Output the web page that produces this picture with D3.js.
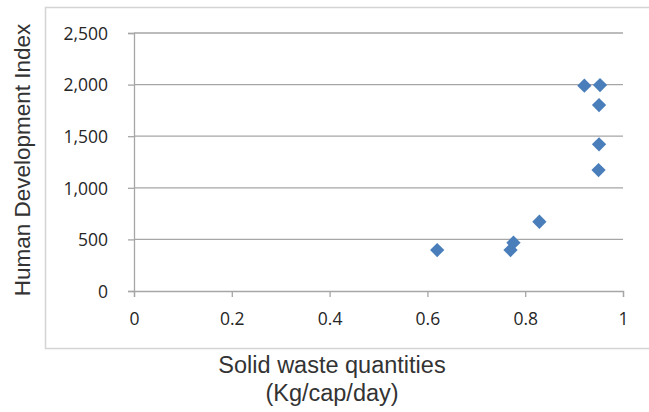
<!DOCTYPE html>
<html>
<head>
<meta charset="utf-8">
<script src="https://cdn.jsdelivr.net/npm/d3@7"></script>
<style>
  html, body { margin: 0; padding: 0; background: #fff; }
  svg { display: block; }
</style>
</head>
<body>
<script>
// Solid waste quantity vs Human Development Index
const wasteKg = [0.62, 0.770, 0.776, 0.829, 0.921, 0.953, 0.951, 0.951, 0.950];
const hdiValues = [397, 397, 468, 671, 1990, 1995, 1802, 1421, 1172];
const xTicks = [0, 0.2, 0.4, 0.6, 0.8, 1];
const yTicks = [0, 500, 1000, 1500, 2000, 2500];

const W = 649, H = 412;
const svg = d3.select("body").append("svg").attr("width", W).attr("height", H);

// outer chart frame
svg.append("rect")
  .attr("x", 45.5).attr("y", 7.5)
  .attr("width", 640).attr("height", 341)
  .attr("fill", "#fff").attr("stroke", "#d4d4d4").attr("stroke-width", 1.5);

const x = d3.scaleLinear().domain([0, 1]).range([134, 623]);
const y = d3.scaleLinear().domain([0, 2500]).range([291, 33]);

// horizontal gridlines
svg.append("g").selectAll("line").data(yTicks.filter(d => d > 0)).join("line")
  .attr("x1", x(0)).attr("x2", x(1))
  .attr("y1", d => y(d)).attr("y2", d => y(d))
  .attr("stroke", "#a6a6a6").attr("stroke-width", 1.3);

// y axis
const yAxis = d3.axisLeft(y).tickValues(yTicks).tickSize(6).tickPadding(20)
  .tickFormat(d3.format(","));
const gy = svg.append("g").attr("transform", `translate(${x(0)},0)`).call(yAxis);

// x axis
const xAxis = d3.axisBottom(x).tickValues(xTicks).tickSize(6).tickPadding(16)
  .tickFormat(d => d === 0 || d === 1 ? d3.format("d")(d) : d3.format(".1f")(d));
const gx = svg.append("g").attr("transform", `translate(0,${y(0)})`).call(xAxis);

[gx, gy].forEach(g => {
  g.select(".domain").attr("stroke", "#a6a6a6").attr("stroke-width", 1.3);
  g.selectAll(".tick line").attr("stroke", "#a6a6a6").attr("stroke-width", 1.3);
  g.selectAll(".tick text")
    .attr("fill", "#262626")
    .style("font-family", "'Open Sans', Lato, sans-serif")
    .style("font-size", "17.5px");
});
gy.selectAll(".tick text").attr("dy", "0.36em");

// diamond markers
const diamond = d3.symbol().type(d3.symbolDiamond2).size(130);
svg.append("g").selectAll("path").data(wasteKg.map((v, i) => [v, hdiValues[i]])).join("path")
  .attr("d", diamond)
  .attr("transform", d => `translate(${x(d[0])},${y(d[1])})`)
  .attr("fill", "#4a7ebb");

// axis titles
svg.append("text")
  .attr("transform", "translate(29.5,160) rotate(-90)")
  .attr("text-anchor", "middle")
  .style("font-family", "'Liberation Sans', Arial, sans-serif")
  .style("font-size", "22.5px").attr("fill", "#333")
  .text("Human Development Index");

const xt = svg.append("text")
  .attr("text-anchor", "middle")
  .style("font-family", "'Liberation Sans', Arial, sans-serif")
  .style("font-size", "23.5px").attr("fill", "#333");
xt.append("tspan").attr("x", 332).attr("y", 373).text("Solid waste quantities");
xt.append("tspan").attr("x", 332).attr("y", 401).text("(Kg/cap/day)");
</script>
</body>
</html>
